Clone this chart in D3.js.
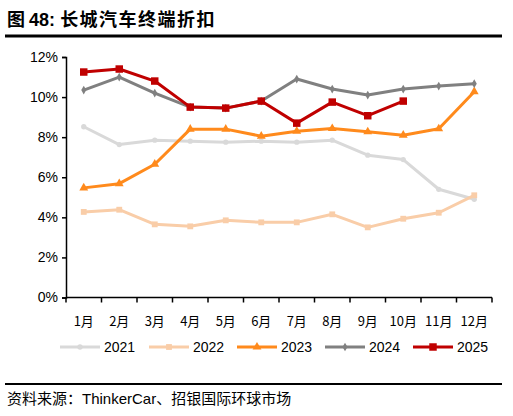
<!DOCTYPE html>
<html>
<head>
<meta charset="utf-8">
<script src="https://cdn.jsdelivr.net/npm/d3@7"></script>
<style>
  body { margin: 0; background: #fff; }
  svg { display: block; font-family: "Liberation Sans", Arial, "Noto Sans CJK SC", sans-serif; }
</style>
</head>
<body>
<div id="chart"></div>
<script>
// Data (percent)
const months = ['1月', '2月', '3月', '4月', '5月', '6月', '7月', '8月', '9月', '10月', '11月', '12月'];
const yTicks = [0, 2, 4, 6, 8, 10, 12];
const s2021 = [8.52, 7.63, 7.85, 7.8, 7.75, 7.8, 7.75, 7.85, 7.1, 6.88, 5.4, 4.9];
const s2022 = [4.27, 4.38, 3.65, 3.55, 3.85, 3.75, 3.75, 4.15, 3.5, 3.93, 4.23, 5.1];
const s2023 = [5.47, 5.68, 6.65, 8.4, 8.4, 8.05, 8.3, 8.43, 8.27, 8.1, 8.42, 10.27];
const s2024 = [10.35, 11.0, 10.2, 9.5, 9.45, 9.8, 10.9, 10.4, 10.1, 10.4, 10.55, 10.67];
const s2025 = [11.25, 11.4, 10.8, 9.5, 9.45, 9.8, 8.7, 9.75, 9.07, 9.8];

const series = [
  { name: '2021', values: s2021, color: '#d9d9d9', marker: 'circle' },
  { name: '2022', values: s2022, color: '#f9cda8', marker: 'square' },
  { name: '2023', values: s2023, color: '#ff8a1c', marker: 'triangle' },
  { name: '2024', values: s2024, color: '#808080', marker: 'diamond' },
  { name: '2025', values: s2025, color: '#c00000', marker: 'bigsquare' }
];

const w = 513, h = 416;
const margin = { top: 57, right: 21, bottom: 118, left: 66 };

const svg = d3.select('#chart').append('svg')
  .attr('width', w).attr('height', h)
  .attr('viewBox', `0 0 ${w} ${h}`);

// title
const title = svg.append('text')
  .attr('x', 7).attr('y', 26)
  .attr('font-size', 18).attr('font-weight', 'bold')
  .attr('fill', '#000')
  .attr('font-family', '"Noto Sans CJK SC", sans-serif');
title.append('tspan').text('图 ');
title.append('tspan').attr('font-family', '"Liberation Sans", Arial, sans-serif').text('48: ');
title.append('tspan').attr('letter-spacing', 1.5).text('长城汽车终端折扣');

svg.append('line')
  .attr('x1', 5).attr('x2', 502).attr('y1', 36).attr('y2', 36)
  .attr('stroke', '#000').attr('stroke-width', 3);

// scales
const x = d3.scaleBand()
  .domain(months)
  .range([margin.left, w - margin.right]);

const y = d3.scaleLinear()
  .domain([0, 12])
  .range([h - margin.bottom - 0.5, margin.top]);

// y axis
const yAxis = d3.axisLeft(y)
  .tickValues(yTicks)
  .tickFormat(d => d + '%')
  .tickSize(4)
  .tickPadding(4);

const gy = svg.append('g')
  .attr('transform', `translate(${margin.left}, 0)`)
  .call(yAxis);
gy.selectAll('text').attr('font-size', 14).attr('fill', '#000')
  .attr('font-family', '"Liberation Sans", Arial, sans-serif');
gy.selectAll('line, path').attr('stroke', '#000').attr('stroke-width', 1.5);

// x axis, ticks at band edges
const gx = svg.append('g')
  .attr('transform', `translate(0, ${y(0)})`);
gx.append('line')
  .attr('x1', margin.left).attr('x2', w - margin.right)
  .attr('stroke', '#000').attr('stroke-width', 1.5);
const edges = months.map(m => x(m)).concat([x(months[11]) + x.bandwidth()]);
gx.selectAll('.edge').data(edges).join('line')
  .attr('class', 'edge')
  .attr('x1', d => d).attr('x2', d => d)
  .attr('y1', 0).attr('y2', 5)
  .attr('stroke', '#000').attr('stroke-width', 1.5);
gx.selectAll('.lbl').data(months).join('text')
  .attr('class', 'lbl')
  .attr('x', d => x(d) + x.bandwidth() / 2)
  .attr('y', 28)
  .attr('text-anchor', 'middle')
  .attr('font-size', 13)
  .attr('font-family', '"Noto Sans CJK SC", sans-serif')
  .attr('fill', '#000')
  .text(d => d);

// markers
const markerPath = (type) => {
  if (type === 'circle') return d3.symbol(d3.symbolCircle, 22)();
  if (type === 'square') return d3.symbol(d3.symbolSquare, 34)();
  if (type === 'triangle') return d3.symbol(d3.symbolTriangle, 34)();
  if (type === 'diamond') return d3.symbol(d3.symbolDiamond, 22)();
  return d3.symbol(d3.symbolSquare, 56)();
};

const cx = i => x(months[i]) + x.bandwidth() / 2;

const line = d3.line()
  .x((d, i) => cx(i))
  .y(d => y(d));

series.forEach(s => {
  const g = svg.append('g');
  g.append('path')
    .datum(s.values)
    .attr('fill', 'none')
    .attr('stroke', s.color)
    .attr('stroke-width', 3)
    .attr('stroke-linejoin', 'round')
    .attr('d', line);
  g.selectAll('path.m').data(s.values).join('path')
    .attr('class', 'm')
    .attr('transform', (d, i) => `translate(${cx(i)}, ${y(d)})`)
    .attr('d', markerPath(s.marker))
    .attr('fill', s.color);
});

// legend
const legendX = [60, 149, 237, 325, 413];
const legendY = 347;
const lg = svg.append('g');
series.forEach((s, i) => {
  const gi = lg.append('g').attr('transform', `translate(${legendX[i]}, ${legendY})`);
  gi.append('line')
    .attr('x1', 0).attr('x2', 40)
    .attr('stroke', s.color).attr('stroke-width', 3);
  gi.append('path')
    .attr('transform', 'translate(20, 0)')
    .attr('d', markerPath(s.marker))
    .attr('fill', s.color);
  gi.append('text')
    .attr('x', 44).attr('y', 5)
    .attr('font-size', 14)
    .attr('font-family', '"Liberation Sans", Arial, sans-serif')
    .attr('fill', '#000')
    .text(s.name);
});

// footer
svg.append('line')
  .attr('x1', 5).attr('x2', 502).attr('y1', 384).attr('y2', 384)
  .attr('stroke', '#000').attr('stroke-width', 2);

const src = svg.append('text')
  .attr('x', 7).attr('y', 404)
  .attr('font-size', 15)
  .attr('fill', '#000')
  .attr('font-family', '"Noto Sans CJK SC", sans-serif');
src.append('tspan').text('资料来源：');
src.append('tspan').attr('font-family', '"Liberation Sans", Arial, sans-serif').text('ThinkerCar');
src.append('tspan').text('、招银国际环球市场');
</script>
</body>
</html>
